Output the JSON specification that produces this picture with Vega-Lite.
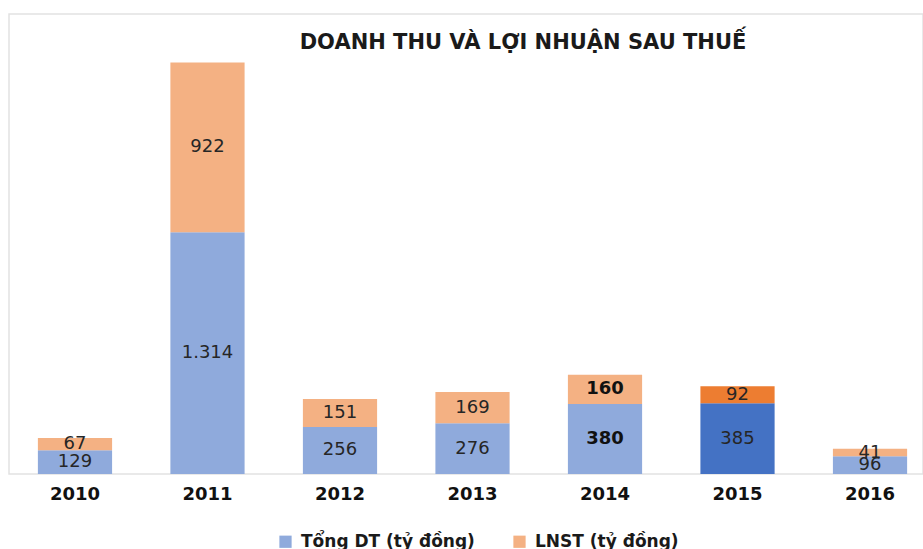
{
  "$schema": "https://vega.github.io/schema/vega-lite/v6.json",
  "width": 914,
  "height": 460,
  "autosize": {"type": "none"},
  "padding": {"left": 9, "top": 14, "right": 0, "bottom": 75},
  "background": "white",
  "config": {
    "locale": {"number": {"decimal": ",", "thousands": ".", "grouping": [3], "currency": ["", " ₫"]}},
    "view": {"stroke": "#e2e2e2", "strokeWidth": 1.5}
  },
  "title": {
    "text": "DOANH THU VÀ LỢI NHUẬN SAU THUẾ",
    "font": "DejaVu Sans",
    "fontSize": 21,
    "fontWeight": "bold",
    "color": "#1a1a1a",
    "anchor": "middle",
    "dx": 57,
    "offset": -56,
    "baseline": "alphabetic"
  },
  "data": {
    "values": [
      {"year": "2010", "series": "Tổng DT (tỷ đồng)", "value": 129},
      {"year": "2010", "series": "LNST (tỷ đồng)", "value": 67},
      {"year": "2011", "series": "Tổng DT (tỷ đồng)", "value": 1314},
      {"year": "2011", "series": "LNST (tỷ đồng)", "value": 922},
      {"year": "2012", "series": "Tổng DT (tỷ đồng)", "value": 256},
      {"year": "2012", "series": "LNST (tỷ đồng)", "value": 151},
      {"year": "2013", "series": "Tổng DT (tỷ đồng)", "value": 276},
      {"year": "2013", "series": "LNST (tỷ đồng)", "value": 169},
      {"year": "2014", "series": "Tổng DT (tỷ đồng)", "value": 380},
      {"year": "2014", "series": "LNST (tỷ đồng)", "value": 160},
      {"year": "2015", "series": "Tổng DT (tỷ đồng)", "value": 385},
      {"year": "2015", "series": "LNST (tỷ đồng)", "value": 92},
      {"year": "2016", "series": "Tổng DT (tỷ đồng)", "value": 96},
      {"year": "2016", "series": "LNST (tỷ đồng)", "value": 41}
    ]
  },
  "transform": [
    {"stack": "value", "groupby": ["year"], "sort": [{"field": "series", "order": "descending"}], "as": ["v0", "v1"]},
    {"calculate": "(datum.v0 + datum.v1) / 2", "as": "mid"}
  ],
  "encoding": {
    "x": {
      "field": "year",
      "type": "ordinal",
      "scale": {"range": [0, 927], "paddingInner": 0.44, "paddingOuter": 0.218},
      "axis": {
        "title": null,
        "domain": false,
        "ticks": false,
        "labelAngle": 0,
        "labelFont": "DejaVu Sans",
        "labelFontSize": 18,
        "labelFontWeight": "bold",
        "labelColor": "#111111",
        "labelPadding": 11
      }
    }
  },
  "layer": [
    {
      "mark": {"type": "bar"},
      "encoding": {
        "y": {"field": "v1", "type": "quantitative", "scale": {"domain": [0, 2500], "nice": false}, "axis": null},
        "y2": {"field": "v0"},
        "color": {
          "field": "series",
          "type": "nominal",
          "scale": {"domain": ["Tổng DT (tỷ đồng)", "LNST (tỷ đồng)"], "range": ["#8FAADC", "#F4B183"]},
          "legend": {
            "orient": "none",
            "legendX": 268,
            "legendY": 519,
            "direction": "horizontal",
            "title": null,
            "symbolType": "square",
            "symbolSize": 150,
            "symbolStrokeWidth": 0,
            "labelFont": "DejaVu Sans",
            "labelFontSize": 17,
            "labelFontWeight": "bold",
            "labelColor": "#1a1a1a",
            "columnPadding": 36,
            "labelOffset": 7,
            "labelLimit": 300
          },
          "condition": [
            {"test": "datum.year == '2015' && datum.series == 'Tổng DT (tỷ đồng)'", "value": "#4472C4"},
            {"test": "datum.year == '2015' && datum.series == 'LNST (tỷ đồng)'", "value": "#ED7D31"}
          ]
        }
      }
    },
    {
      "transform": [{"filter": "datum.year != '2014'"}],
      "mark": {"type": "text", "font": "DejaVu Sans", "fontSize": 18, "color": "#262626"},
      "encoding": {
        "y": {"field": "mid", "type": "quantitative"},
        "text": {"field": "value", "type": "quantitative", "format": ",d"}
      }
    },
    {
      "transform": [{"filter": "datum.year == '2014'"}],
      "mark": {"type": "text", "font": "DejaVu Sans", "fontSize": 18, "fontWeight": "bold", "color": "#111111"},
      "encoding": {
        "y": {"field": "mid", "type": "quantitative"},
        "text": {"field": "value", "type": "quantitative", "format": ",d"}
      }
    }
  ]
}
